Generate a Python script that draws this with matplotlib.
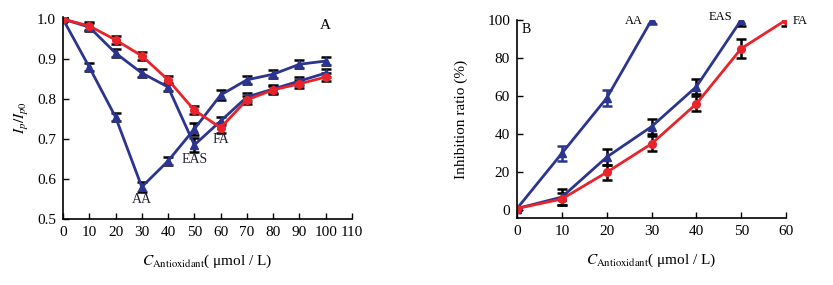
import numpy as np
import matplotlib
matplotlib.use("Agg")
import matplotlib.pyplot as plt

plt.rcParams['font.family'] = ['Liberation Serif', 'DejaVu Serif']
plt.rcParams['mathtext.fontset'] = 'stix'

# --- panel A data ---
conc_a = [0, 10, 20, 30, 40, 50, 60, 70, 80, 90, 100]
aa_a   = [1.0, 0.88, 0.755, 0.58, 0.645, 0.725, 0.81, 0.848, 0.862, 0.887, 0.895]
eas_a  = [1.0, 0.98, 0.915, 0.865, 0.83, 0.685, 0.745, 0.805, 0.825, 0.845, 0.865]
fa_a   = [1.0, 0.983, 0.948, 0.908, 0.848, 0.772, 0.728, 0.798, 0.823, 0.838, 0.855]
err_aa_a  = [0.005, 0.01, 0.01, 0.012, 0.01, 0.015, 0.012, 0.01, 0.01, 0.01, 0.01]
err_eas_a = [0.005, 0.01, 0.01, 0.01, 0.01, 0.018, 0.01, 0.01, 0.01, 0.01, 0.01]
err_fa_a  = [0.005, 0.01, 0.01, 0.01, 0.01, 0.01, 0.012, 0.01, 0.01, 0.01, 0.01]

# --- panel B data ---
conc_aa_b  = [0, 10, 20, 30]
aa_b       = [1, 30, 59, 100]
err_aa_b   = [1, 4, 4, 2]
conc_eas_b = [0, 10, 20, 30, 40, 50]
eas_b      = [1, 7, 28, 44, 65, 100]
err_eas_b  = [1, 4, 4, 4, 4, 3]
conc_fa_b  = [0, 10, 20, 30, 40, 50, 60]
fa_b       = [1, 6, 20, 35, 56, 85, 100]
err_fa_b   = [1, 3, 4, 4, 4, 5, 3]

BLUE = '#2b3590'
RED = '#e8232b'
xlab = r'$C_{\rm Antioxidant}$' + '( μmol / L)'

fig = plt.figure(figsize=(8.33, 2.85), dpi=100)
axA = fig.add_axes([0.0756, 0.232, 0.347, 0.708])
axB = fig.add_axes([0.6207, 0.235, 0.323, 0.695])

ebkw = dict(ecolor='black', elinewidth=1.8, capsize=3.5, capthick=1.8, lw=2, ms=5.5)

axA.errorbar(conc_a, aa_a, yerr=err_aa_a, color=BLUE, marker='^', **ebkw)
axA.errorbar(conc_a, eas_a, yerr=err_eas_a, color=BLUE, marker='^', **ebkw)
axA.errorbar(conc_a, fa_a, yerr=err_fa_a, color=RED, marker='o', **ebkw)
axA.set_xlim(0, 110)
axA.set_ylim(0.5, 1.005)
axA.set_xticks(np.arange(0, 111, 10))
axA.set_yticks(np.arange(0.5, 1.01, 0.1))
axA.set_yticklabels(['0.5', '0.6', '0.7', '0.8', '0.9', '1.0'])
axA.set_ylabel(r'$I_{p}/I_{p0}$', fontsize=11)
axA.set_xlabel(xlab, fontsize=11, labelpad=10)
axA.text(100, 0.975, 'A', fontsize=11, ha='center')
axA.text(30, 0.54, 'AA', fontsize=10, ha='center', color='#222233')
axA.text(50, 0.64, 'EAS', fontsize=10, ha='center', color='#222233')
axA.text(60, 0.69, 'FA', fontsize=10, ha='center', color='#222233')

axB.errorbar(conc_aa_b, aa_b, yerr=err_aa_b, color=BLUE, marker='^',
             **{**ebkw, 'ecolor': BLUE})
axB.errorbar(conc_eas_b, eas_b, yerr=err_eas_b, color=BLUE, marker='^', **ebkw)
axB.errorbar(conc_fa_b, fa_b, yerr=err_fa_b, color=RED, marker='o', **ebkw)
axB.set_xlim(0, 60)
axB.set_ylim(-4, 100)
axB.set_xticks(np.arange(0, 61, 10))
axB.set_yticks(np.arange(0, 101, 20))
axB.set_ylabel('Inhibition ratio (%)', fontsize=11, labelpad=14)
axB.set_xlabel(xlab, fontsize=11, labelpad=10)
axB.text(1, 93, 'B', fontsize=10)
axB.text(28, 98, 'AA', fontsize=9, ha='right')
axB.text(48, 100, 'EAS', fontsize=9, ha='right')
axB.text(61.5, 98, 'FA', fontsize=9, ha='left', clip_on=False)

for ax in (axA, axB):
    ax.spines['top'].set_visible(False)
    ax.spines['right'].set_visible(False)
    ax.spines['left'].set_linewidth(1.2)
    ax.spines['bottom'].set_linewidth(1.2)
    ax.tick_params(direction='in', labelsize=11, length=4, width=1, pad=5)

fig.savefig('out.png', dpi=100)
